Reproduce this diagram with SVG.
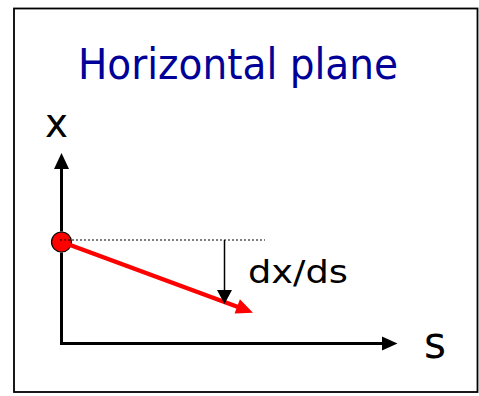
<svg xmlns="http://www.w3.org/2000/svg" width="479" height="396" viewBox="0 0 479 396">
<style>
  .lbl { font-family: "DejaVu Sans", "Liberation Sans", sans-serif; fill: #000; }
  .title { font-family: "DejaVu Sans", "Liberation Sans", sans-serif; fill: #000099; }
  .axis { stroke: #000; stroke-width: 3; fill: none; }
</style>
<rect x="14" y="8.5" width="463.5" height="383.5" fill="#fff" stroke="#000" stroke-width="1.8"/>
<g id="title"><text class="title" x="78" y="79" font-size="42" textLength="320" lengthAdjust="spacingAndGlyphs">Horizontal plane</text></g>
<g id="label-x"><text class="lbl" x="45" y="137" font-size="40" textLength="23" lengthAdjust="spacingAndGlyphs">x</text></g>
<g id="label-s"><text class="lbl" x="424" y="358" font-size="44" textLength="22" lengthAdjust="spacingAndGlyphs">s</text></g>
<g id="label-dxds"><text class="lbl" x="248" y="283" font-size="32" textLength="100" lengthAdjust="spacingAndGlyphs">dx/ds</text></g>
<g id="origin"><circle cx="61.5" cy="242" r="10" fill="#ff0000" stroke="#000" stroke-width="1.2"/></g>
<g id="connectors">
  <path d="M61.5,343.5 V252.5" class="axis"/>
  <path d="M61.5,231.5 V168" class="axis"/>
  <path d="M54,169 L61.5,153 L69,169 Z" fill="#000"/>
  <path d="M60,343.5 H383" class="axis"/>
  <path d="M382,336.5 L397.5,343.5 L382,350.5 Z" fill="#000"/>
  <line x1="60" y1="240" x2="265" y2="240" stroke="#000" stroke-width="1" stroke-dasharray="2,2"/>
  <line x1="62" y1="242" x2="238" y2="307" stroke="#ff0000" stroke-width="4.5"/>
  <path d="M253,312.7 L234.6,313.6 L239.9,299.3 Z" fill="#ff0000"/>
  <line x1="224.5" y1="240" x2="224.5" y2="291" stroke="#000" stroke-width="1.5"/>
  <path d="M217,290 L224.5,304 L232,290 Z" fill="#000"/>
</g>
</svg>
